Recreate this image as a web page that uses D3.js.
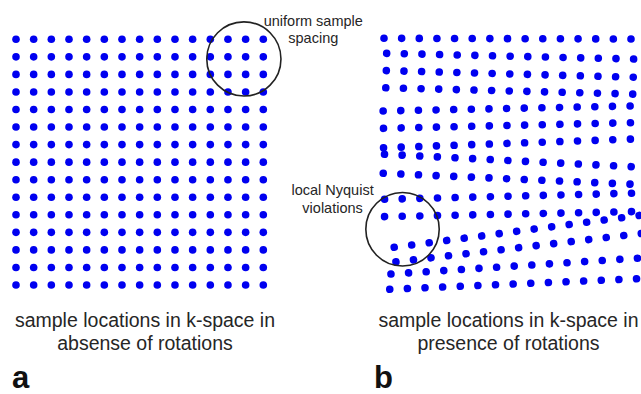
<!DOCTYPE html>
<html>
<head>
<meta charset="utf-8">
<script src="https://cdn.jsdelivr.net/npm/d3@7"></script>
<style>
body { margin: 0; background: #fff; }
text { font-family: "Liberation Sans", Arial, sans-serif; fill: #262626; }
</style>
</head>
<body>
<svg width="641" height="394"></svg>
<script>
// k-space sample grid: 15 columns x 15 rows
var kxValues = [-7, -6, -5, -4, -3, -2, -1, 0, 1, 2, 3, 4, 5, 6, 7];
var kyRows = [0, 1, 2, 3, 4, 5, 6, 7, 8, 9, 10, 11, 12, 13, 14];

// per-row rotation (degrees) and shift (k units) in panel b
var rowAngle = [0.16, 1.33, 1.53, 1.46, -1.16, -1.30, -2.01, 2.89, 2.53, -1.40, -1.16, -7.4, -6.6, -3.67, -2.44];
var rowShiftX = [0, 0.15, 0.13, 0.10, -0.05, -0.03, -0.03, 0.02, -0.05, 0.03, 0.03, 0.52, 0.63, 0.38, 0.32];
var rowShiftY = [0.02, 0.02, 0.03, 0, 0, -0.03, -0.01, -0.04, 0, 0, 0.02, 0, -0.07, -0.02, 0];

// highlighted regions: [kx, row, radius] in k units
var circleA = [5.9, 1.12, 2.1];
var circleB = [-5.95, 10.88, 2.08];

var notesA = ["uniform sample", "spacing"];
var notesB = ["local Nyquist", "violations"];
var captionA = ["sample locations in k-space in", "absense of rotations"];
var captionB = ["sample locations in k-space in", "presence of rotations"];
var panelLabels = ["a", "b"];

var svg = d3.select("svg");
var dotColor = "#0000f0";

var xA = d3.scaleLinear().domain([-7, 7]).range([16, 263.3]),
    yA = d3.scaleLinear().domain([0, 14]).range([39.3, 285]);
var xB = d3.scaleLinear().domain([-7, 7]).range([384, 631]),
    yB = d3.scaleLinear().domain([0, 14]).range([38.3, 284]);

// panel a: regular grid
var gridA = [];
kyRows.forEach(function (r) {
    kxValues.forEach(function (k) { gridA.push({kx: k, row: r}); });
});

svg.append("g").selectAll("circle")
    .data(gridA)
    .enter().append("circle")
    .attr("cx", function (d) { return xA(d.kx); })
    .attr("cy", function (d) { return yA(d.row); })
    .attr("r", 3.8)
    .attr("fill", dotColor);

// panel b: each row rotated about its centre
var rowsB = svg.append("g").selectAll("g")
    .data(kyRows)
    .enter().append("g")
    .attr("transform", function (r) {
        return "translate(" + xB(rowShiftX[r]) + "," + yB(r + rowShiftY[r]) + ") rotate(" + rowAngle[r] + ")";
    });

rowsB.selectAll("circle")
    .data(kxValues)
    .enter().append("circle")
    .attr("cx", function (k) { return xB(k) - xB(0); })
    .attr("cy", 0)
    .attr("r", 3.8)
    .attr("fill", dotColor);

svg.append("circle")
    .attr("cx", xA(circleA[0]))
    .attr("cy", yA(circleA[1]))
    .attr("r", circleA[2] * (xA(1) - xA(0)))
    .attr("fill", "none")
    .attr("stroke", "#222")
    .attr("stroke-width", 1.6);

svg.append("circle")
    .attr("cx", xB(circleB[0]))
    .attr("cy", yB(circleB[1]))
    .attr("r", circleB[2] * (xB(1) - xB(0)))
    .attr("fill", "none")
    .attr("stroke", "#222")
    .attr("stroke-width", 1.6);

function lines(lst, x, y0, dy, size) {
    svg.append("g").selectAll("text")
        .data(lst)
        .enter().append("text")
        .attr("x", x)
        .attr("y", function (d, i) { return y0 + i * dy; })
        .attr("text-anchor", "middle")
        .style("font-size", size + "px")
        .text(function (d) { return d; });
}

lines(notesA, 313.3, 26, 17, 14.5);
lines(notesB, 332.6, 195, 17.7, 14.5);
lines(captionA, 145, 326.7, 23.3, 19.5);
lines(captionB, 508.5, 326.7, 23.3, 19.5);

svg.selectAll(".panel-label")
    .data(panelLabels)
    .enter().append("text")
    .attr("class", "panel-label")
    .attr("x", function (d, i) { return i ? 374 : 12; })
    .attr("y", 388)
    .style("font-size", "31px")
    .style("font-weight", "bold")
    .style("fill", "#111")
    .text(function (d) { return d; });
</script>
</body>
</html>
